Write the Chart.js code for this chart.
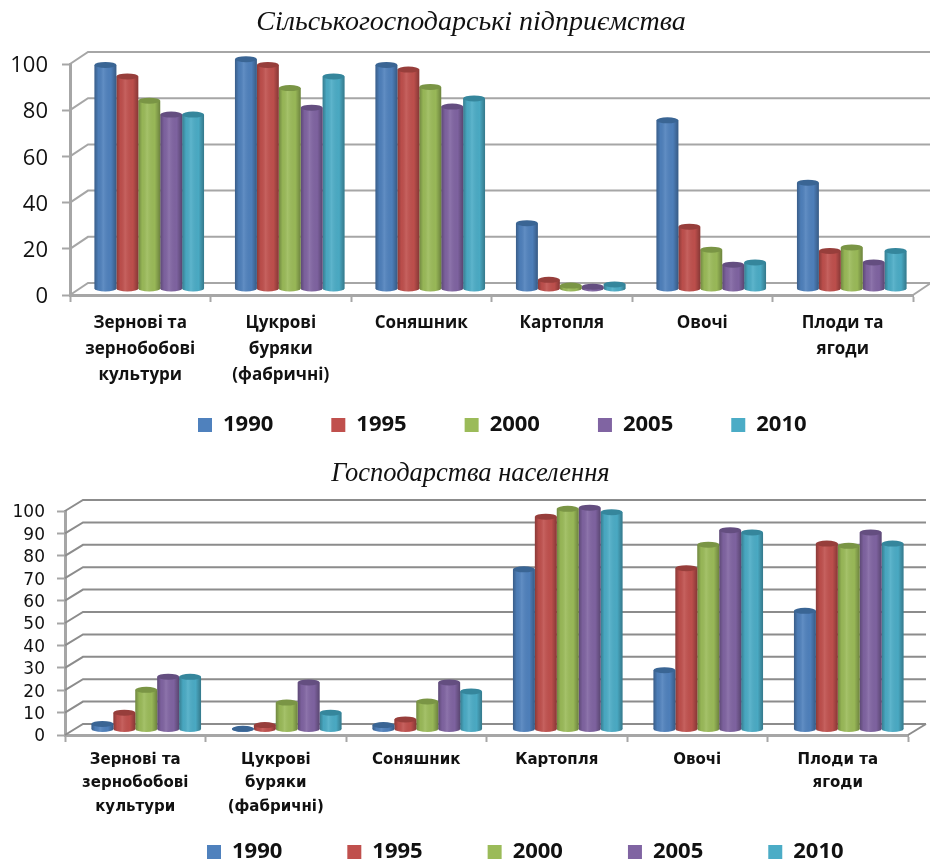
<!DOCTYPE html>
<html>
<head>
<meta charset="utf-8">
<title>Chart</title>
<script src="https://cdn.jsdelivr.net/npm/chart.js@4"></script>
<style>
html, body { margin: 0; padding: 0; background: #fff; overflow: hidden; }
canvas { position: absolute; left: 0; }
#topChart { top: 0; }
#bottomChart { top: 450px; }
</style>
</head>
<body>
<canvas id="topChart" width="930" height="450"></canvas>
<canvas id="bottomChart" width="930" height="410"></canvas>
<script>
const categories = [
    ["Зернові та", "зернобобові", "культури"],
    ["Цукрові", "буряки", "(фабричні)"],
    "Соняшник",
    "Картопля",
    "Овочі",
    ["Плоди та", "ягоди"]
];
const years = ["1990", "1995", "2000", "2005", "2010"];
const colors = ["#4F81BD", "#C0504D", "#9BBB59", "#8064A2", "#4BACC6"];
const capColors = ["#3A6594", "#973E3B", "#7A9545", "#644E80", "#35869C"];

const topTitle = "Сільськогосподарські підприємства";
const top1990 = [97, 99.5, 97, 28.5, 73, 46];
const top1995 = [92, 97, 95, 4, 27, 16.5];
const top2000 = [81.5, 87, 87.5, 1.5, 17, 18];
const top2005 = [75.5, 78.5, 79, 1, 10.5, 11.5];
const top2010 = [75.5, 92, 82.5, 2, 11.5, 16.5];

const bottomTitle = "Господарства населення";
const bottom1990 = [2.5, 0.3, 2, 71.5, 26.5, 53];
const bottom1995 = [7.5, 2, 4.5, 95, 72, 83];
const bottom2000 = [17.7, 12, 12.5, 98.5, 82.5, 82];
const bottom2005 = [23.6, 21, 21, 99, 89, 88];
const bottom2010 = [23.5, 7.5, 17, 97, 88, 83];

// fake 3D look: back wall lines and round bars
const depthPlugin = {
    id: "depth",
    beforeLayout(chart) {
        // legend is placed by hand below, it should not take room from the plot
        const legend = chart.legend;
        if (!legend.zeroHeight) {
            const fit = legend.fit;
            legend.fit = function () { fit.call(this); this.height = 0; };
            legend.zeroHeight = true;
        }
    },
    afterLayout(chart, args, opts) {
        const legend = chart.legend;
        legend.left = opts.legendX - legend.options.labels.padding;
        legend.right = chart.width + 200;
        legend.top = opts.legendY - legend.options.labels.padding;
        chart.titleBlock.left += opts.titleShift;
        chart.titleBlock.right += opts.titleShift;
    },
    beforeDatasetsDraw(chart, args, opts) {
        const ctx = chart.ctx;
        const area = chart.chartArea;
        const y = chart.scales.y;
        ctx.save();
        ctx.strokeStyle = opts.gridColor;
        ctx.lineWidth = opts.gridWidth;
        y.ticks.forEach(t => {
            const py = y.getPixelForValue(t.value);
            ctx.beginPath();
            ctx.moveTo(area.left, py);
            ctx.lineTo(area.left + opts.wallX, py + opts.wallY);
            ctx.lineTo(area.right + opts.wallX, py + opts.wallY);
            ctx.stroke();
        });
        ctx.beginPath();
        ctx.moveTo(area.right, area.bottom);
        ctx.lineTo(area.right + opts.wallX, area.bottom + opts.wallY);
        ctx.stroke();
        ctx.restore();
    },
    beforeDatasetDraw(chart, args, opts) {
        const ctx = chart.ctx;
        ctx.save();
        ctx.translate(opts.barShiftX, opts.wallY / 2);
        // bottom of the cylinders
        ctx.fillStyle = colors[args.index];
        args.meta.data.forEach(bar => {
            ctx.beginPath();
            ctx.ellipse(bar.x, bar.base, bar.width / 2, opts.capHeight, 0, 0, Math.PI * 2);
            ctx.fill();
        });
    },
    afterDatasetDraw(chart, args, opts) {
        const ctx = chart.ctx;
        args.meta.data.forEach(bar => {
            const left = bar.x - bar.width / 2;
            const right = bar.x + bar.width / 2;
            const shade = ctx.createLinearGradient(left, 0, right, 0);
            shade.addColorStop(0, "rgba(0,0,0,0.28)");
            shade.addColorStop(0.18, "rgba(0,0,0,0.03)");
            shade.addColorStop(0.4, "rgba(255,255,255,0.10)");
            shade.addColorStop(0.75, "rgba(0,0,0,0.02)");
            shade.addColorStop(1, "rgba(0,0,0,0.30)");
            ctx.fillStyle = shade;
            ctx.beginPath();
            ctx.moveTo(left, bar.y);
            ctx.lineTo(left, bar.base);
            ctx.ellipse(bar.x, bar.base, bar.width / 2, opts.capHeight, 0, Math.PI, 0, true);
            ctx.lineTo(right, bar.y);
            ctx.closePath();
            ctx.fill();

            ctx.fillStyle = capColors[args.index];
            ctx.beginPath();
            ctx.ellipse(bar.x, bar.y, bar.width / 2, opts.capHeight, 0, 0, Math.PI * 2);
            ctx.fill();
        });
        ctx.restore();
    }
};

function makeChart(id, title, series, cfg) {
    new Chart(document.getElementById(id), {
        type: "bar",
        plugins: [depthPlugin],
        data: {
            labels: categories,
            datasets: series.map((values, i) => ({
                label: years[i],
                data: values,
                backgroundColor: colors[i],
                borderWidth: 0,
                clip: false,
                categoryPercentage: 0.78,
                barPercentage: 1
            }))
        },
        options: {
            responsive: false,
            animation: false,
            devicePixelRatio: 1,
            layout: { autoPadding: false, padding: { left: 0, right: cfg.paddingRight, top: 0, bottom: 0 } },
            plugins: {
                title: {
                    display: true,
                    text: title,
                    color: "#111",
                    font: { family: "Liberation Serif", style: "italic", weight: "normal", size: cfg.titleSize, lineHeight: 1.2 },
                    padding: cfg.titlePadding
                },
                tooltip: { enabled: false },
                legend: {
                    position: "bottom",
                    align: "start",
                    labels: {
                        boxWidth: 14,
                        boxHeight: 14,
                        padding: cfg.legendPadding,
                        color: "#111",
                        font: { family: cfg.legendFont, weight: "bold", size: cfg.legendSize }
                    }
                },
                depth: {
                    wallX: 18,
                    wallY: cfg.wallY,
                    barShiftX: cfg.barShiftX,
                    capHeight: 3,
                    gridColor: cfg.gridColor,
                    gridWidth: cfg.gridWidth,
                    legendX: cfg.legendX,
                    legendY: cfg.legendY,
                    titleShift: cfg.titleShift
                }
            },
            scales: {
                x: {
                    afterFit: s => { s.height = cfg.xHeight; },
                    grid: { offset: true, drawOnChartArea: false, tickLength: 7, tickColor: "#a6a6a6", tickWidth: 2 },
                    border: { color: "#a6a6a6", width: 3 },
                    ticks: {
                        autoSkip: false,
                        maxRotation: 0,
                        padding: cfg.xPadding,
                        color: "#111",
                        font: { family: cfg.xFont, weight: "bold", size: cfg.xSize, lineHeight: cfg.xLineHeight }
                    }
                },
                y: {
                    min: 0,
                    max: 100,
                    afterFit: s => { s.width = cfg.yWidth; },
                    grid: { drawOnChartArea: false, tickLength: 8, tickColor: "#a6a6a6", tickWidth: 2 },
                    border: { color: "#a6a6a6", width: 3 },
                    ticks: {
                        autoSkip: false,
                        stepSize: cfg.yStep,
                        padding: cfg.yPadding,
                        labelOffset: 2,
                        color: "#111",
                        font: { family: cfg.yFont, size: cfg.ySize }
                    }
                }
            }
        }
    });
}

makeChart("topChart", topTitle, [top1990, top1995, top2000, top2005, top2010], {
    titleSize: 28, titlePadding: { top: 6, bottom: 24.4 }, titleShift: 14.5,
    paddingRight: 17, xHeight: 155, yWidth: 70, yStep: 20,
    wallY: -12, barShiftX: 9, gridColor: "#a6a6a6", gridWidth: 2,
    xFont: "Open Sans", xSize: 17, xLineHeight: 1.53, xPadding: 8,
    yFont: "Open Sans", ySize: 22, yPadding: 14,
    legendFont: "Open Sans", legendSize: 22, legendPadding: 58, legendX: 198, legendY: 414
});

makeChart("bottomChart", bottomTitle, [bottom1990, bottom1995, bottom2000, bottom2005, bottom2010], {
    titleSize: 26.5, titlePadding: { top: 8, bottom: 21.2 }, titleShift: 16.5,
    paddingRight: 22, xHeight: 125, yWidth: 65, yStep: 10,
    wallY: -11, barShiftX: 11, gridColor: "#8c8c8c", gridWidth: 2,
    xFont: "DejaVu Sans", xSize: 15, xLineHeight: 1.57, xPadding: 6,
    yFont: "DejaVu Sans", ySize: 17, yPadding: 12,
    legendFont: "Open Sans", legendSize: 22, legendPadding: 65, legendX: 207, legendY: 391
});
</script>
</body>
</html>
